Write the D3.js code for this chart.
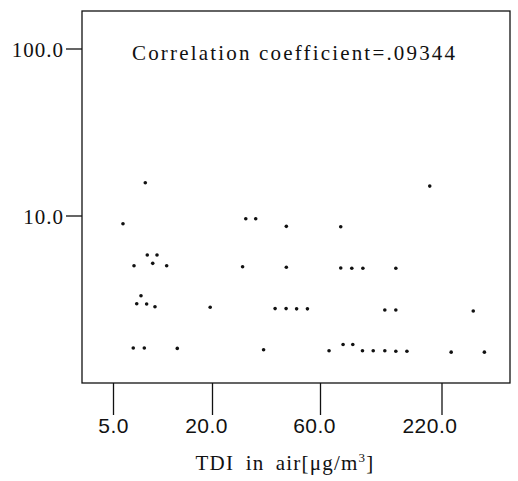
<!DOCTYPE html>
<html lang="en">
<head>
    <meta charset="UTF-8">
    <title>TDI in air - correlation</title>
    <script src="https://cdn.jsdelivr.net/npm/d3@7/dist/d3.min.js"></script>
    <style>
        body { margin: 0; background: #fff; }
        svg { display: block; }
    </style>
</head>
<body>
    <div id="chart"></div>

    <script>
        const xValues = [
            7.86, 5.75, 28.2, 31.2, 42.6, 8.08, 9.26, 8.72, 6.71, 10.6,
            27.3, 42.6, 7.40, 6.97, 8.01, 9.00, 19.5, 38.0, 42.5, 47.3,
            52.8, 6.64, 7.75, 12.3, 33.8, 194, 74.9, 74.9, 84.3, 94.9,
            135, 120, 135, 309, 76.8, 85.2, 66.1, 94.5, 106, 120,
            135, 152, 244, 348
        ];
        const yValues = [
            15.7, 8.93, 9.57, 9.57, 8.61, 5.80, 5.80, 5.17, 5.00, 5.00,
            4.93, 4.90, 3.31, 2.96, 2.95, 2.84, 2.82, 2.77, 2.77, 2.76,
            2.76, 1.61, 1.61, 1.60, 1.57, 15.0, 8.57, 4.85, 4.83, 4.83,
            4.83, 2.72, 2.72, 2.68, 1.69, 1.69, 1.55, 1.55, 1.55, 1.55,
            1.54, 1.54, 1.52, 1.52
        ];
        const xTicks = [5, 20, 60, 220];
        const yTicks = [10, 100];
        const corrText = 'Correlation coefficient=.09344';

        const width = 518, height = 481;
        const frame = { left: 82, top: 11, right: 510, bottom: 383 };

        const svg = d3.select('#chart')
            .append('svg')
            .attr('width', width)
            .attr('height', height);

        // x ticks are not evenly spaced on the original, so use a piecewise log scale
        const x = d3.scaleLog()
            .domain(xTicks)
            .range([113, 212, 320, 441.5]);

        const y = d3.scaleLog()
            .domain([10, 100])
            .range([215.5, 48.5]);

        // plot frame
        svg.append('rect')
            .attr('x', frame.left)
            .attr('y', frame.top)
            .attr('width', frame.right - frame.left)
            .attr('height', frame.bottom - frame.top)
            .attr('fill', 'none')
            .attr('stroke', '#111')
            .attr('stroke-width', 1.3);

        // y axis
        const yAxis = svg.append('g')
            .attr('transform', `translate(${frame.left},0)`)
            .call(d3.axisLeft(y)
                .tickValues(yTicks)
                .tickSize(16)
                .tickPadding(2)
                .tickFormat(d3.format('.1f')));

        yAxis.select('.domain').remove();
        yAxis.selectAll('.tick line')
            .attr('stroke', '#111')
            .attr('stroke-width', 1.3);
        yAxis.selectAll('.tick text')
            .attr('fill', '#111')
            .attr('dy', '0.4em')
            .attr('font-family', '"Liberation Serif", serif')
            .attr('font-size', 21)
            .attr('letter-spacing', 1);

        // x axis
        const xAxis = svg.append('g')
            .attr('transform', `translate(0,${frame.bottom})`)
            .call(d3.axisBottom(x)
                .tickValues(xTicks)
                .tickSize(32)
                .tickPadding(3)
                .tickFormat(d3.format('.1f')));

        xAxis.select('.domain').remove();
        xAxis.selectAll('.tick line')
            .attr('stroke', '#111')
            .attr('stroke-width', 1.3);
        xAxis.selectAll('.tick text')
            .attr('fill', '#111')
            .attr('text-anchor', 'end')
            .attr('x', 15.5)
            .attr('dy', '0.71em')
            .attr('font-family', '"Liberation Sans", Arial, sans-serif')
            .attr('font-size', 21)
            .attr('letter-spacing', 0.5);

        // points
        svg.append('g')
            .selectAll('circle')
            .data(xValues.map((v, i) => ({ x: v, y: yValues[i] })))
            .join('circle')
            .attr('cx', d => x(d.x))
            .attr('cy', d => y(d.y))
            .attr('r', 1.8)
            .attr('fill', '#111');

        // correlation label
        svg.append('text')
            .attr('x', 132)
            .attr('y', 60)
            .attr('textLength', 323)
            .attr('lengthAdjust', 'spacing')
            .attr('font-family', '"Liberation Serif", serif')
            .attr('font-size', 21)
            .attr('fill', '#111')
            .text(corrText);

        // x axis title (wide spacing like the typewriter original)
        const title = svg.append('text')
            .attr('x', 285)
            .attr('y', 470)
            .attr('text-anchor', 'middle')
            .attr('font-family', '"Liberation Serif", serif')
            .attr('font-size', 21)
            .attr('letter-spacing', 1.2)
            .attr('word-spacing', 5)
            .attr('fill', '#111');
        title.append('tspan').text('TDI in air[μg/m');
        title.append('tspan')
            .attr('font-size', 13)
            .attr('dy', -8)
            .text('3');
        title.append('tspan')
            .attr('dy', 8)
            .text(']');
    </script>
</body>
</html>
